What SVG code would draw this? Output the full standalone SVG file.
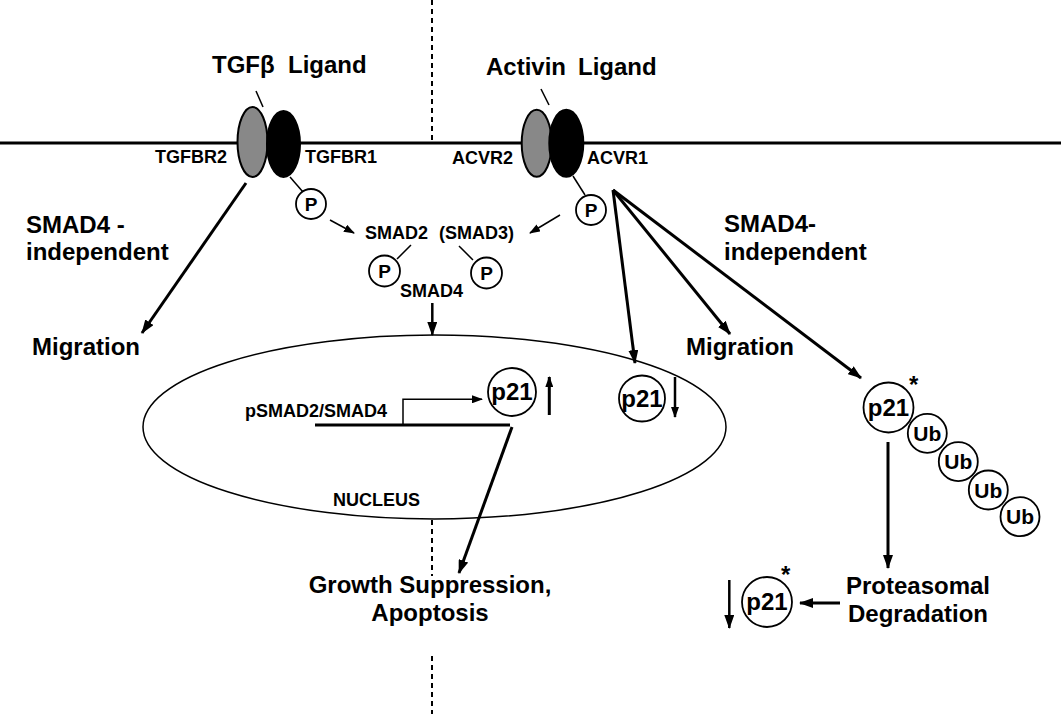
<svg xmlns="http://www.w3.org/2000/svg" width="1061" height="714" viewBox="0 0 1061 714">
<style>
text{font-family:"Liberation Sans",Arial,sans-serif;font-weight:bold;fill:#000}
.big{font-size:24px}
.lab{font-size:18px}
.pt{font-size:19px;text-anchor:middle}
.p21{font-size:24px;text-anchor:middle}
.ub{font-size:21px;text-anchor:middle}
.circ{fill:#fff;stroke:#000;stroke-width:1.8}
.thick{stroke:#000;stroke-width:3;fill:none}
.thin{stroke:#000;stroke-width:1.5;fill:none}
</style>
<defs>
<marker id="ah" markerUnits="userSpaceOnUse" markerWidth="14" markerHeight="10" refX="13" refY="5" orient="auto"><path d="M0,0 L14,5 L0,10 z" fill="#000"/></marker>
<marker id="as" markerUnits="userSpaceOnUse" markerWidth="11" markerHeight="8" refX="10" refY="4" orient="auto"><path d="M0,0 L11,4 L0,8 z" fill="#000"/></marker>
</defs>
<rect width="1061" height="714" fill="#fff"/>
<g id="membrane">
<line x1="0" y1="143" x2="1061" y2="143" stroke="#000" stroke-width="3"/>
<line x1="432" y1="0" x2="432" y2="143" stroke="#000" stroke-width="2" stroke-dasharray="5,4"/>
<line x1="432" y1="520" x2="432" y2="576" stroke="#000" stroke-width="2" stroke-dasharray="5,4"/>
<line x1="432" y1="656" x2="432" y2="714" stroke="#000" stroke-width="2" stroke-dasharray="5,4"/>
</g>
<g id="nucleus">
<ellipse cx="434.5" cy="427" rx="291.5" ry="92" fill="none" stroke="#000" stroke-width="1.5"/>
<text class="lab" x="333" y="506">NUCLEUS</text>
</g>
<g id="tgfb-receptor">
<text class="big" x="212" y="73">TGFβ<tspan x="288">Ligand</tspan></text>
<line x1="256" y1="91" x2="263" y2="107" class="thin"/>
<ellipse cx="252.5" cy="142" rx="15" ry="35" fill="#888" stroke="#000" stroke-width="2"/>
<ellipse cx="283.5" cy="144" rx="16.5" ry="33" fill="#000" stroke="#000" stroke-width="2"/>
<text class="lab" x="155" y="163">TGFBR2</text>
<text class="lab" x="305" y="163">TGFBR1</text>
<line x1="290" y1="177" x2="303" y2="192" class="thin"/>
</g>
<g id="tgfb-p">
<circle class="circ" cx="311" cy="204" r="15"/>
<text class="pt" x="311" y="211">P</text>
</g>
<g id="activin-receptor">
<text class="big" x="486" y="75">Activin<tspan x="578">Ligand</tspan></text>
<line x1="541" y1="89" x2="549" y2="105" class="thin"/>
<ellipse cx="536.7" cy="143.3" rx="15" ry="33.5" fill="#888" stroke="#000" stroke-width="2"/>
<ellipse cx="566.3" cy="143.3" rx="17" ry="33.5" fill="#000" stroke="#000" stroke-width="2"/>
<text class="lab" x="452" y="164">ACVR2</text>
<text class="lab" x="587" y="164">ACVR1</text>
<line x1="573" y1="176" x2="585" y2="195" class="thin"/>
</g>
<g id="activin-p">
<circle class="circ" cx="591" cy="210" r="15"/>
<text class="pt" x="591" y="217">P</text>
</g>
<g id="smad-complex">
<text class="lab" x="365" y="239">SMAD2<tspan x="439">(SMAD3)</tspan></text>
<line x1="411" y1="245" x2="397" y2="259" class="thin"/>
<line x1="459" y1="246" x2="473" y2="260" class="thin"/>
<circle class="circ" cx="384.5" cy="271" r="15.5"/>
<text class="pt" x="384.5" y="278">P</text>
<circle class="circ" cx="486.5" cy="273" r="15.5"/>
<text class="pt" x="486.5" y="280">P</text>
<text class="lab" x="400" y="297">SMAD4</text>
</g>
<g id="migration-left"><text class="big" x="32" y="355">Migration</text></g>
<g id="smad4-indep-left"><text class="big" x="26" y="233">SMAD4 -</text><text class="big" x="26" y="260">independent</text></g>
<g id="migration-right"><text class="big" x="686" y="355">Migration</text></g>
<g id="smad4-indep-right"><text class="big" x="724" y="232">SMAD4-</text><text class="big" x="724" y="260">independent</text></g>
<g id="promoter">
<line x1="315" y1="425" x2="510" y2="425" stroke="#000" stroke-width="3"/>
<text class="lab" x="245" y="417">pSMAD2/SMAD4</text>
</g>
<g id="p21-up">
<circle class="circ" cx="512" cy="392" r="24"/>
<text class="p21" x="512" y="400">p21</text>
</g>
<g id="p21-down">
<circle class="circ" cx="642" cy="398.5" r="23"/>
<text class="p21" x="642" y="407">p21</text>
</g>
<g id="p21-ub">
<circle class="circ" cx="888.5" cy="407.5" r="25"/>
<text class="p21" x="888.5" y="416">p21</text>
<text class="big" x="909" y="393">*</text>
<circle class="circ" cx="927.3" cy="433.3" r="19.5"/>
<text class="ub" x="927.3" y="441">Ub</text>
<circle class="circ" cx="958.3" cy="461.7" r="19.5"/>
<text class="ub" x="958.3" y="469.4">Ub</text>
<circle class="circ" cx="988.3" cy="490" r="19.5"/>
<text class="ub" x="988.3" y="497.7">Ub</text>
<circle class="circ" cx="1020" cy="516.7" r="19.5"/>
<text class="ub" x="1020" y="524.4">Ub</text>
</g>
<g id="growth"><text class="big" x="430" y="593" text-anchor="middle">Growth Suppression,</text><text class="big" x="430" y="621" text-anchor="middle">Apoptosis</text></g>
<g id="proteasomal"><text class="big" x="918" y="594" text-anchor="middle">Proteasomal</text><text class="big" x="918" y="622" text-anchor="middle">Degradation</text></g>
<g id="p21-degraded">
<circle class="circ" cx="767" cy="602" r="25"/>
<text class="p21" x="767" y="610">p21</text>
<text class="big" x="781" y="583">*</text>
</g>
<g id="connectors">
<line x1="246" y1="183" x2="142" y2="333" class="thick" marker-end="url(#ah)"/>
<line x1="330" y1="220" x2="354" y2="233" class="thin" marker-end="url(#as)"/>
<line x1="560" y1="215" x2="530" y2="233" class="thin" marker-end="url(#as)"/>
<line x1="432.3" y1="303" x2="432.3" y2="335" stroke="#000" stroke-width="2.5" marker-end="url(#ah)"/>
<line x1="613" y1="190" x2="635" y2="363" class="thick" marker-end="url(#ah)"/>
<line x1="613" y1="190" x2="730" y2="334" class="thick" marker-end="url(#ah)"/>
<line x1="613" y1="190" x2="861" y2="378" class="thick" marker-end="url(#ah)"/>
<polyline points="403,425 403,399.3 482,399.3" class="thin" marker-end="url(#as)"/>
<line x1="549.3" y1="415" x2="549.3" y2="377" stroke="#000" stroke-width="3" marker-end="url(#as)"/>
<line x1="675" y1="377" x2="675" y2="417" stroke="#000" stroke-width="2.5" marker-end="url(#as)"/>
<line x1="512" y1="427" x2="459" y2="573" class="thick" marker-end="url(#ah)"/>
<line x1="888" y1="442" x2="888" y2="568" class="thick" marker-end="url(#ah)"/>
<line x1="840" y1="603" x2="800" y2="603" class="thick" marker-end="url(#ah)"/>
<line x1="729.3" y1="580" x2="729.3" y2="628" stroke="#000" stroke-width="2.5" marker-end="url(#ah)"/>
</g>
</svg>
